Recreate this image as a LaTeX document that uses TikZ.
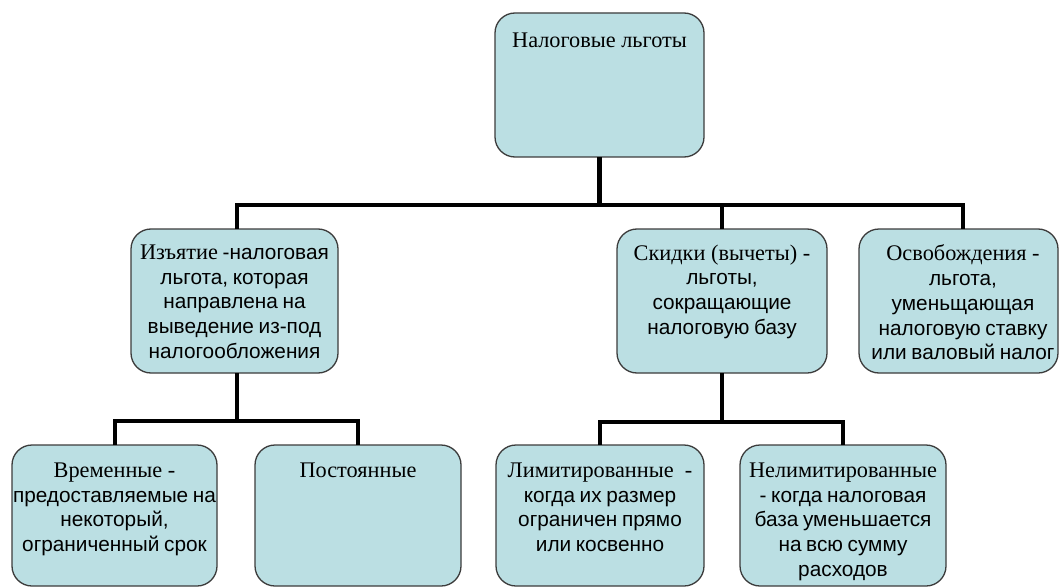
\documentclass[tikz,border=0pt]{standalone}
\usepackage{fontspec}
\setmainfont[WordSpace=0.8]{Liberation Sans}
\newfontfamily\serifcyr{Liberation Serif}
\definecolor{boxfill}{RGB}{187,223,227}
\definecolor{boxborder}{RGB}{60,60,60}
\begin{document}
\begin{tikzpicture}[x=1pt,y=-1pt,
  box/.style={draw=boxborder, line width=1.3pt, fill=boxfill, rounded corners=20pt, anchor=north west, inner sep=0pt, outer sep=0pt},
  txt/.style={anchor=north, align=center, inner sep=0pt, font=\fontsize{20.8}{24.8}\selectfont, text=black},
  conn/.style={line width=4.2pt, black}]
\useasboundingbox (0,0) rectangle (1059,588);
\clip (0,0) rectangle (1059,588);
\fill[white] (0,0) rectangle (1059,588);

\newcommand\ser[1]{{\serifcyr\fontsize{22.3}{24.8}\selectfont #1}}

% bus coordinates
\coordinate (busL) at (237,205);
\coordinate (busR) at (963,205);
\coordinate (subA) at (115,421);
\coordinate (subB) at (600,422);

% boxes
\node[box, minimum width=209pt, minimum height=144pt] (top) at (495,13) {};
\node[box, minimum width=207pt, minimum height=144pt] (izj) at (131,229) {};
\node[box, minimum width=210pt, minimum height=144pt] (skd) at (617,229) {};
\node[box, minimum width=199pt, minimum height=144pt] (osv) at (859,229) {};
\node[box, minimum width=205pt, minimum height=141pt] (vrm) at (12,445) {};
\node[box, minimum width=206pt, minimum height=141pt] (pst) at (255,445) {};
\node[box, minimum width=208pt, minimum height=141pt] (lim) at (496,445) {};
\node[box, minimum width=206pt, minimum height=141pt] (nel) at (740,445) {};

\draw[conn] (top.south) -- (top.south |- busL);
\draw[conn] (izj.north -| busL) -- (busL) -- (busR) -- (osv.north -| busR);
\draw[conn] (skd.north) -- (skd.north |- busL);
\draw[conn] (izj.south -| busL) -- (busL |- subA);
\draw[conn] (vrm.north -| subA) -- (subA) -- (pst.north |- subA) -- (pst.north);
\draw[conn] (skd.south) -- (skd.south |- subB);
\draw[conn] (lim.north -| subB) -- (subB) -- (nel.north |- subB) -- (nel.north);

% texts
\node[txt] (ttop) at ([yshift=-19.5pt]top.north) {\ser{Налоговые льготы}};
\node[txt] (tizj) at ([yshift=-15.5pt]izj.north) {\ser{Изъятие} -налоговая\\льгота, которая\\направлена на\\выведение из-под\\налогообложения};
\node[txt] (tskd) at ([yshift=-15.5pt]skd.north) {\ser{Скидки (вычеты) -}\\льготы,\\сокращающие\\налоговую базу};
\node[txt] (tosv) at ([yshift=-15.5pt]osv.north -| busR) {\ser{Освобождения -}\\льгота,\\уменьщающая\\налоговую ставку\\или валовый налог};
\node[txt] (tvrm) at ([yshift=-17.5pt]vrm.north) {\ser{Временные -}\\предоставляемые на\\некоторый,\\ограниченный срок};
\node[txt] (tpst) at ([yshift=-17.5pt]pst.north) {\ser{Постоянные}};
\node[txt] (tlim) at ([yshift=-17.5pt]lim.north) {\ser{Лимитированные~ -}\\когда их размер\\ограничен прямо\\или косвенно};
\node[txt] (tnel) at ([yshift=-17.5pt]nel.north) {\ser{Нелимитированные}\\- когда налоговая\\база уменьшается\\на всю сумму\\расходов};
\end{tikzpicture}
\end{document}
